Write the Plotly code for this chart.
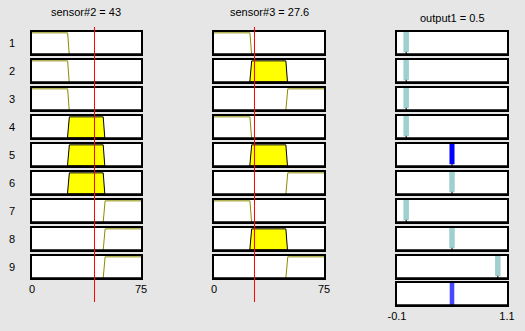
import plotly.graph_objects as go

W, H = 525, 331

# ---------------- data ----------------
input_names = ["sensor#2", "sensor#3"]
input_values = [43, 27.6]
input_range = [0, 75]
input_ticks = [0, 75]
input_ticktext = ["0", "75"]

output_name = "output1"
output_value = 0.5
output_range = [-0.1, 1.1]
output_ticks = [-0.1, 1.1]
output_ticktext = ["-0.1", "1.1"]

# trapezoid membership functions (same for both inputs)
mf1 = [-10, -5, 24.5, 25.6]
mf2 = [24.4, 25.7, 49.0, 50.1]
mf3 = [49.0, 50.3, 80, 85]
mfs = [mf1, mf2, mf3]

rule_in1 = [1, 1, 1, 2, 2, 2, 3, 3, 3]
rule_in2 = [1, 2, 3, 1, 2, 3, 1, 2, 3]
rule_out = [0, 0, 0, 0, 0.5, 0.5, 0, 0.5, 1]
rule_labels = ["1", "2", "3", "4", "5", "6", "7", "8", "9"]

# ---------------- styling / layout ----------------
BG = "#e6e6e6"
FONT = "Liberation Sans"
col_px = [(32, 141), (214, 324), (397, 507)]
row_top0, row_pitch, row_h = 32, 28, 22
out_agg_top = 283


def trap(x, p):
    a, b, c, d = p
    return max(0.0, min((x - a) / (b - a), 1.0, (d - x) / (d - c)))


def xdom(c):
    return [col_px[c][0] / W, col_px[c][1] / W]


def ydom(top):
    return [1 - (top + row_h) / H, 1 - top / H]


fig = go.Figure()
layout = dict(
    template="none",
    width=W, height=H,
    margin=dict(l=0, r=0, t=0, b=0, pad=0, autoexpand=False),
    paper_bgcolor=BG, plot_bgcolor="white",
    showlegend=False, barmode="overlay",
    font=dict(family=FONT, size=11, color="black"),
)

axis_id = 0
axes_map = {}
all_axes = []


def new_axes(col, top, xr, yr, tickvals=None, ticktext=None):
    global axis_id
    axis_id += 1
    n = axis_id
    sfx = "" if n == 1 else str(n)
    layout["xaxis" + sfx] = dict(
        domain=xdom(col), range=xr, anchor="y" + sfx, automargin=False,
        showline=True, mirror=True, linecolor="black", linewidth=1.5,
        showgrid=False, zeroline=False, ticks="",
        showticklabels=tickvals is not None,
        tickvals=tickvals, ticktext=ticktext, fixedrange=True,
        tickfont=dict(family=FONT, size=11, color="black"),
    )
    layout["yaxis" + sfx] = dict(
        domain=ydom(top), range=yr, anchor="x" + sfx, automargin=False,
        showline=True, mirror=True, linecolor="black", linewidth=1.5,
        showgrid=False, zeroline=False, ticks="", showticklabels=False,
        fixedrange=True,
    )
    all_axes.append(("x" + sfx, "y" + sfx))
    return "x" + sfx, "y" + sfx


firing = []
for r in range(9):
    top = row_top0 + row_pitch * r
    mus = []
    for ci, rule_in in enumerate([rule_in1, rule_in2]):
        last = r == 8
        xa, ya = new_axes(ci, top, input_range, [0, 1.04],
                          input_ticks if last else None,
                          input_ticktext if last else None)
        if r == 0:
            axes_map[ci] = xa
        p = mfs[rule_in[r] - 1]
        mu = trap(input_values[ci], p)
        mus.append(mu)
        a, b, c, d = p
        if mu > 0:
            xs = [a, a + mu * (b - a), d - mu * (d - c), d, a]
            ys = [0, mu, mu, 0, 0]
            fig.add_trace(go.Scatter(x=xs, y=ys, xaxis=xa, yaxis=ya, mode="lines",
                                     fill="toself", fillcolor="#ffff00",
                                     line=dict(color="black", width=1),
                                     hoverinfo="skip"))
        else:
            fig.add_trace(go.Scatter(x=[a, b, c, d], y=[0, 1, 1, 0], xaxis=xa, yaxis=ya,
                                     mode="lines", line=dict(color="#8c8c00", width=1),
                                     hoverinfo="skip"))
    w = min(mus)
    firing.append(w)
    # output row
    xa, ya = new_axes(2, top, output_range, [0, 1])
    v = rule_out[r]
    fig.add_trace(go.Scatter(x=[v, v], y=[0, 0.1], xaxis=xa, yaxis=ya, mode="lines",
                             line=dict(color="black", width=1), hoverinfo="skip"))
    if w > 0:
        fig.add_trace(go.Bar(x=[v], y=[w - 0.08], base=[0.08], width=[0.055],
                             marker=dict(color="#0000ff", line=dict(width=0)),
                             xaxis=xa, yaxis=ya, hoverinfo="skip"))
    else:
        fig.add_trace(go.Bar(x=[v], y=[0.92], base=[0.08], width=[0.06],
                             marker=dict(color="#9fcfcf", line=dict(width=0)),
                             xaxis=xa, yaxis=ya, hoverinfo="skip"))
    # row label
    fig.add_annotation(x=12 / W, y=1 - (top + row_h / 2) / H, xref="paper", yref="paper",
                       xanchor="center", yanchor="middle",
                       text=rule_labels[r], showarrow=False,
                       font=dict(family=FONT, size=11, color="black"))

# aggregated output row
xa, ya = new_axes(2, out_agg_top, output_range, [0, 1], output_ticks, output_ticktext)
fig.add_trace(go.Bar(x=[output_value], y=[1.0], base=[0], width=[0.05],
                     marker=dict(color="#4848ff", line=dict(width=0)),
                     xaxis=xa, yaxis=ya, hoverinfo="skip"))

fig.update_layout(go.Layout(**layout))

# thicker bottom edge of each box
for xa, ya in all_axes:
    fig.add_shape(type="line", xref=xa + " domain", yref=ya + " domain",
                  x0=0, x1=1, y0=0, y1=0, line=dict(color="black", width=1.5),
                  layer="above")

# titles
title_pos = [(86.5, 12), (269, 12), (452, 18)]
titles = [f"{input_names[0]} = {input_values[0]:g}",
          f"{input_names[1]} = {input_values[1]:g}",
          f"{output_name} = {output_value:g}"]
for (tx, ty), t in zip(title_pos, titles):
    fig.add_annotation(x=tx / W, y=1 - ty / H, xref="paper", yref="paper", text=t,
                       xanchor="center", yanchor="middle",
                       showarrow=False, font=dict(family=FONT, size=11, color="black"))

# red input-value lines
for ci in range(2):
    fig.add_shape(type="line", xref=axes_map[ci], yref="paper",
                  x0=input_values[ci], x1=input_values[ci],
                  y0=1 - 27 / H, y1=1 - 302 / H,
                  line=dict(color="#ff0000", width=1), layer="above")

fig.write_html("out.html", config={"displayModeBar": False},
               post_script="document.body.style.margin='0';"
                           "document.body.style.background='" + BG + "';")
